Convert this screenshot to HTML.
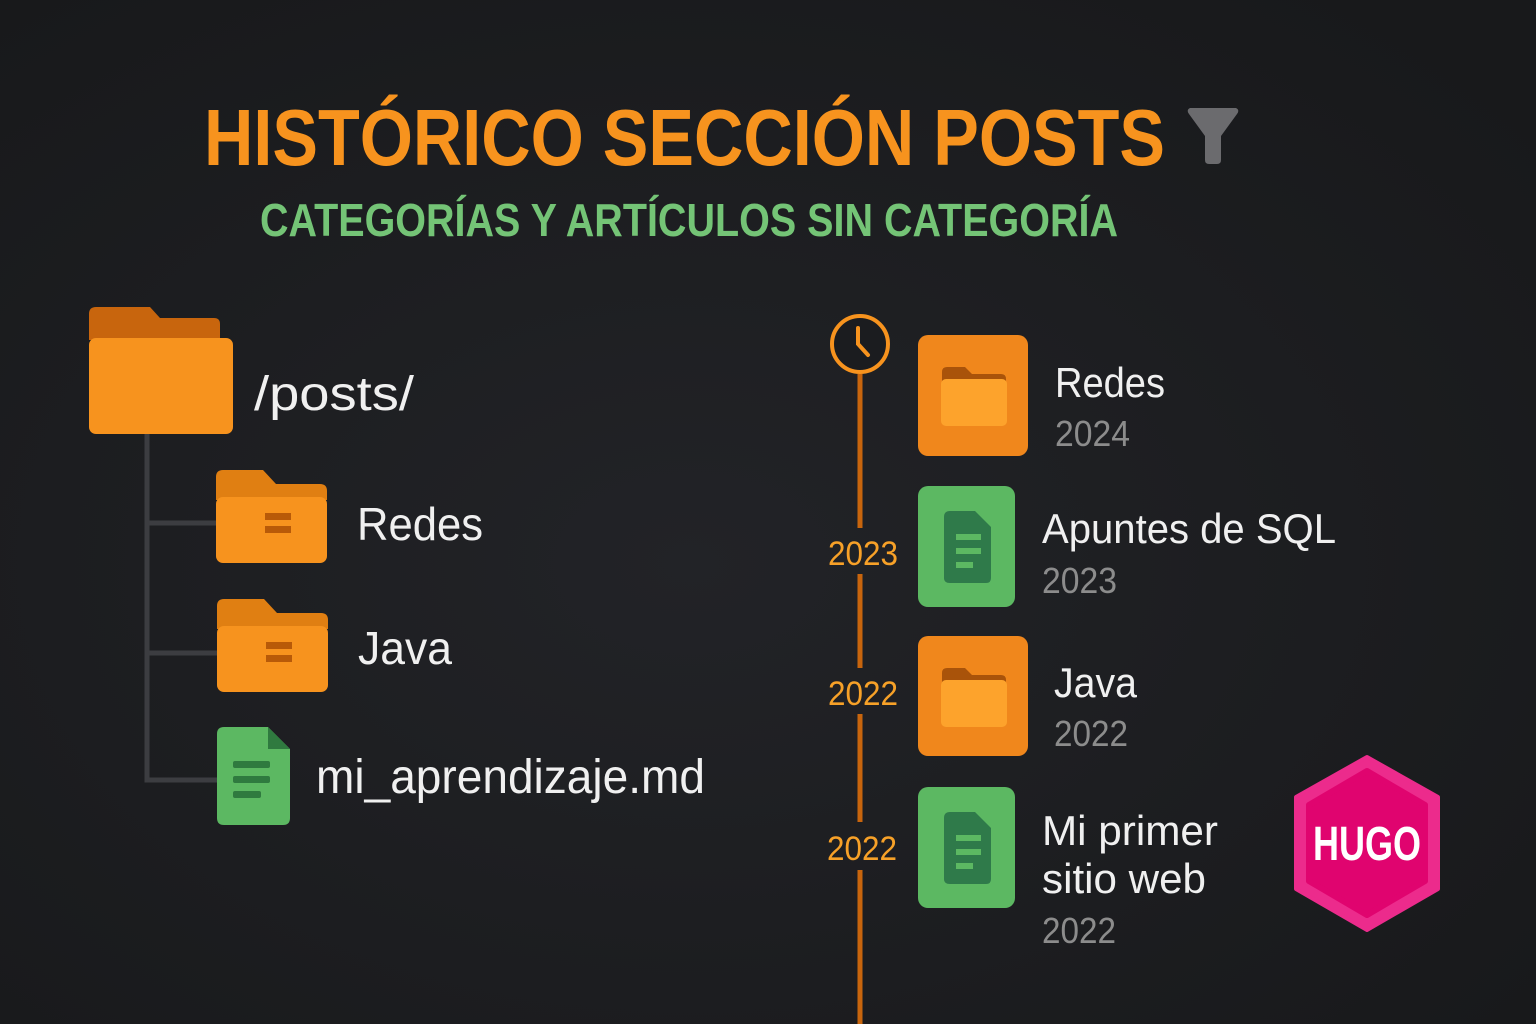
<!DOCTYPE html>
<html><head><meta charset="utf-8"><style>
html,body{margin:0;padding:0;background:#1b1c1f;}
svg{display:block;}
text{font-family:"Liberation Sans","DejaVu Sans",sans-serif;}
</style></head><body>
<svg width="1536" height="1024" viewBox="0 0 1536 1024">
<defs><radialGradient id="bg" cx="0.45" cy="0.55" r="0.7"><stop offset="0" stop-color="#222327"/><stop offset="1" stop-color="#18191b"/></radialGradient></defs>
<rect width="1536" height="1024" fill="url(#bg)"/>

<text x="204" y="165" font-size="80" font-weight="bold" fill="#f7931e" textLength="961" lengthAdjust="spacingAndGlyphs">HISTÓRICO SECCIÓN POSTS</text>
<path d="M1190,108 L1236,108 Q1240,110 1237,114 L1221,136 L1221,160 Q1221,164 1217,164 L1209,164 Q1205,164 1205,160 L1205,136 L1189,114 Q1186,110 1190,108 Z" fill="#6b6b6e"/>
<text x="260" y="236" font-size="46" font-weight="bold" fill="#74c476" textLength="858" lengthAdjust="spacingAndGlyphs">CATEGORÍAS Y ARTÍCULOS SIN CATEGORÍA</text>

<g>
<path d="M147,434 V780 H217 M147,523 H217 M147,653 H217" stroke="#3c3d41" stroke-width="5" fill="none"/>
<g>
<path d="M89,314 Q89,307 96,307 H150 L160,318 H214 Q220,318 220,324 V340 H89 Z" fill="#c8650d"/>
<rect x="89" y="338" width="144" height="96" rx="7" fill="#f7931e"/>
</g>
<text x="254" y="410" font-size="48" fill="#f0f0f0" textLength="160" lengthAdjust="spacingAndGlyphs">/posts/</text>

<g>
<path d="M216,477 Q216,470 223,470 H263 L276,484 H320 Q327,484 327,491 V500 H216 Z" fill="#e07f12"/>
<rect x="216" y="497" width="111" height="66" rx="7" fill="#f7931e"/>
<rect x="265" y="513" width="26" height="7" fill="#b85a08"/><rect x="265" y="526" width="26" height="7" fill="#b85a08"/>
</g>
<text x="357" y="540" font-size="46" fill="#f0f0f0" textLength="126" lengthAdjust="spacingAndGlyphs">Redes</text>

<g>
<path d="M217,606 Q217,599 224,599 H264 L277,613 H321 Q328,613 328,620 V629 H217 Z" fill="#e07f12"/>
<rect x="217" y="626" width="111" height="66" rx="7" fill="#f7931e"/>
<rect x="266" y="642" width="26" height="7" fill="#b85a08"/><rect x="266" y="655" width="26" height="7" fill="#b85a08"/>
</g>
<text x="358" y="664" font-size="46" fill="#f0f0f0" textLength="94" lengthAdjust="spacingAndGlyphs">Java</text>

<g>
<path d="M224,727 H268 L290,749 V818 Q290,825 283,825 H224 Q217,825 217,818 V734 Q217,727 224,727 Z" fill="#5cb862"/>
<path d="M268,727 L290,749 H268 Z" fill="#2f7a3f"/>
<rect x="233" y="761" width="37" height="7" rx="2" fill="#2f7a3f"/><rect x="233" y="776" width="37" height="7" rx="2" fill="#2f7a3f"/><rect x="233" y="791" width="28" height="7" rx="2" fill="#2f7a3f"/>
</g>
<text x="316" y="793" font-size="48" fill="#f0f0f0" textLength="389" lengthAdjust="spacingAndGlyphs">mi_aprendizaje.md</text>
</g>

<g>
<path d="M860,374 V528 M860,574 V668 M860,714 V822 M860,870 V1024" stroke="#c8650d" stroke-width="5"/>
<g>
<circle cx="860" cy="344" r="28" fill="#1b1c1f" stroke="#f7931e" stroke-width="4"/>
<path d="M858,328 V344 L868,355" stroke="#f7931e" stroke-width="4" fill="none" stroke-linecap="round"/>
</g>
<text x="828" y="565" font-size="34" fill="#f7a128" textLength="70" lengthAdjust="spacingAndGlyphs">2023</text>
<text x="828" y="705" font-size="34" fill="#f7a128" textLength="70" lengthAdjust="spacingAndGlyphs">2022</text>
<text x="827" y="860" font-size="34" fill="#f7a128" textLength="70" lengthAdjust="spacingAndGlyphs">2022</text>

<g>
<rect x="918" y="335" width="110" height="121" rx="10" fill="#f0871c"/>
<path d="M942,372 Q942,367 947,367 H965 L972,374 H1001 Q1006,374 1006,379 V382 H942 Z" fill="#a9530a"/>
<rect x="941" y="379" width="66" height="47" rx="5" fill="#fda32c"/>
</g>
<text x="1055" y="397" font-size="42" fill="#f0f0f0" textLength="110" lengthAdjust="spacingAndGlyphs">Redes</text>
<text x="1055" y="446" font-size="36" fill="#8c8c8c" textLength="75" lengthAdjust="spacingAndGlyphs">2024</text>

<g>
<rect x="918" y="486" width="97" height="121" rx="10" fill="#5cb862"/>
<path d="M950,511 H975 L991,527 V578 Q991,583 986,583 H950 Q944,583 944,578 V517 Q944,511 950,511 Z" fill="#2f7a4a"/>
<rect x="956" y="534" width="25" height="6" fill="#5cb862"/><rect x="956" y="548" width="25" height="6" fill="#5cb862"/><rect x="956" y="562" width="17" height="6" fill="#5cb862"/>
</g>
<text x="1042" y="543" font-size="42" fill="#f0f0f0" textLength="294" lengthAdjust="spacingAndGlyphs">Apuntes de SQL</text>
<text x="1042" y="593" font-size="36" fill="#8c8c8c" textLength="75" lengthAdjust="spacingAndGlyphs">2023</text>

<g>
<rect x="918" y="636" width="110" height="120" rx="10" fill="#f0871c"/>
<path d="M942,673 Q942,668 947,668 H965 L972,675 H1001 Q1006,675 1006,680 V683 H942 Z" fill="#a9530a"/>
<rect x="941" y="680" width="66" height="47" rx="5" fill="#fda32c"/>
</g>
<text x="1054" y="697" font-size="42" fill="#f0f0f0" textLength="83" lengthAdjust="spacingAndGlyphs">Java</text>
<text x="1054" y="746" font-size="36" fill="#8c8c8c" textLength="74" lengthAdjust="spacingAndGlyphs">2022</text>

<g>
<rect x="918" y="787" width="97" height="121" rx="10" fill="#5cb862"/>
<path d="M950,812 H975 L991,828 V879 Q991,884 986,884 H950 Q944,884 944,879 V818 Q944,812 950,812 Z" fill="#2f7a4a"/>
<rect x="956" y="835" width="25" height="6" fill="#5cb862"/><rect x="956" y="849" width="25" height="6" fill="#5cb862"/><rect x="956" y="863" width="17" height="6" fill="#5cb862"/>
</g>
<text x="1042" y="845" font-size="42" fill="#f0f0f0" textLength="176" lengthAdjust="spacingAndGlyphs">Mi primer</text>
<text x="1042" y="893" font-size="42" fill="#f0f0f0" textLength="164" lengthAdjust="spacingAndGlyphs">sitio web</text>
<text x="1042" y="943" font-size="36" fill="#8c8c8c" textLength="74" lengthAdjust="spacingAndGlyphs">2022</text>
</g>

<g>
<path d="M1367,757 L1438,797 L1438,889 L1367,930 L1296,889 L1296,797 Z" fill="#ec2b8c" stroke="#ec2b8c" stroke-width="4" stroke-linejoin="round"/>
<path d="M1367,771 L1425,805 L1425,881 L1367,915 L1309,881 L1309,805 Z" fill="#e0046f" stroke="#e0046f" stroke-width="6" stroke-linejoin="round"/>
<text x="1367" y="860" font-size="48" font-weight="bold" fill="#ffffff" text-anchor="middle" textLength="108" lengthAdjust="spacingAndGlyphs">HUGO</text>
</g>
</svg>
</body></html>
